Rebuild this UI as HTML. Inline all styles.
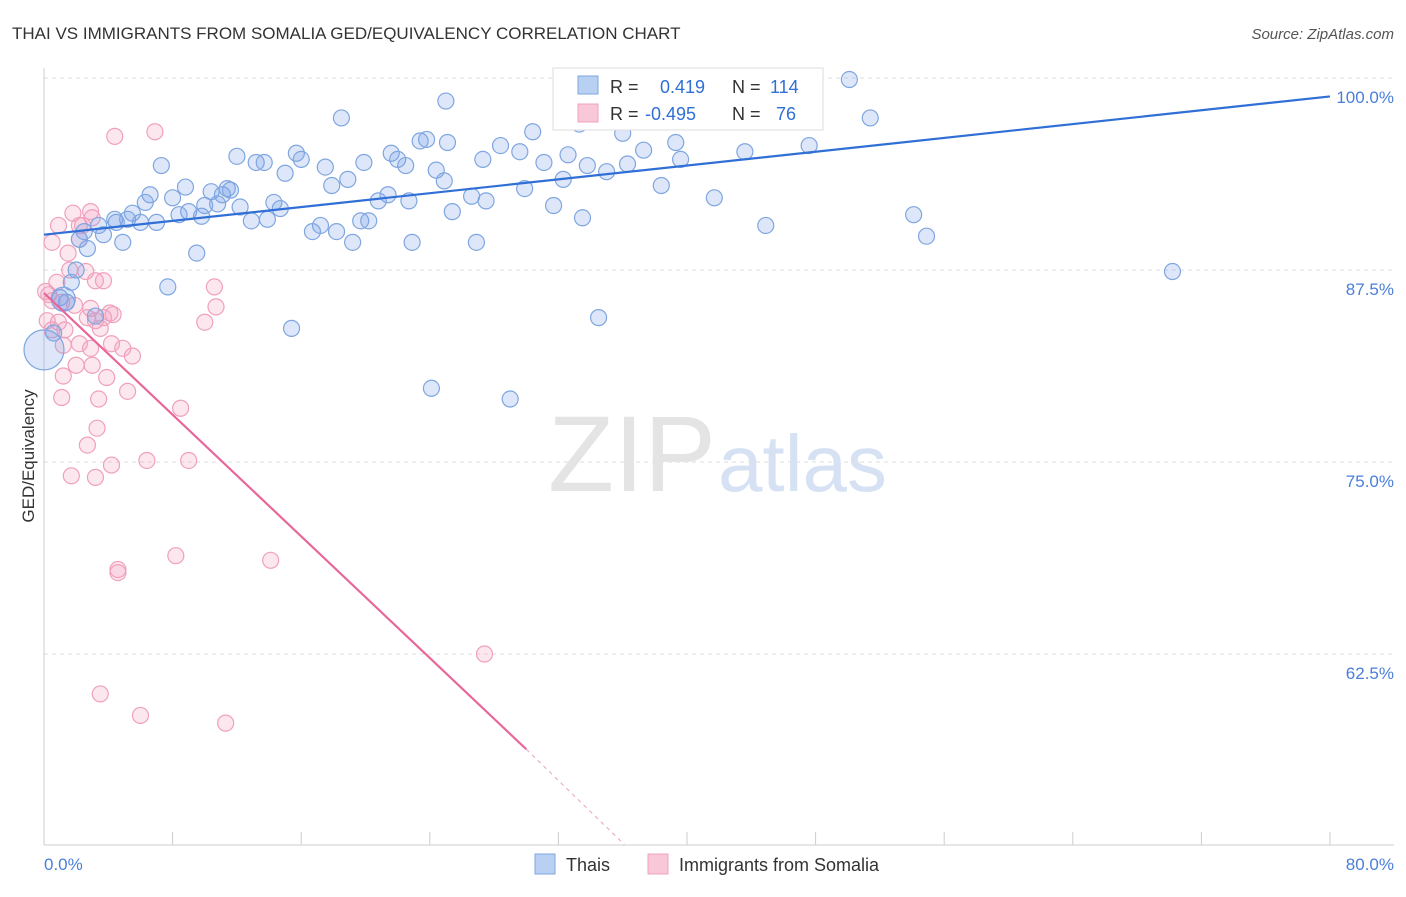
<!DOCTYPE html>
<html><head><meta charset="utf-8"><style>
body{margin:0;background:#fff;font-family:"Liberation Sans",sans-serif}
svg text{font-family:"Liberation Sans",sans-serif}
</style></head><body>
<svg id="chart" width="1406" height="892" viewBox="0 0 1406 892" xmlns="http://www.w3.org/2000/svg">
<text x="12" y="39" font-size="17" fill="#333">THAI VS IMMIGRANTS FROM SOMALIA GED/EQUIVALENCY CORRELATION CHART</text>
<text x="1394" y="39" font-size="15" fill="#555" text-anchor="end" font-style="italic">Source: ZipAtlas.com</text>
<g id="grid"></g>
<text x="716" y="491" font-size="108" fill="#e4e4e4" text-anchor="end" font-family="Liberation Serif">ZIP</text>
<text x="718" y="491" font-size="80" fill="#d6e2f4">atlas</text>
<g id="marks"></g>
<text x="34" y="456" font-size="17" fill="#333" text-anchor="middle" transform="rotate(-90 34 456)">GED/Equivalency</text>
<text x="44" y="870" font-size="17" fill="#4a7fd8">0.0%</text>
<text x="1394" y="870" font-size="17" fill="#4a7fd8" text-anchor="end">80.0%</text>
<g>
<rect x="553" y="68" width="270" height="62" fill="#fff" stroke="#ddd"/>
<rect x="578" y="76" width="20" height="18" fill="#b8d0f2" stroke="#7fa6e0"/>
<rect x="578" y="104" width="20" height="18" fill="#f8c8d8" stroke="#f0a0bc"/>
<text x="610" y="93" font-size="18" fill="#333">R = <tspan fill="#2f6fd6" x="660">0.419</tspan><tspan fill="#333" x="732">N = </tspan><tspan fill="#2f6fd6" x="770">114</tspan></text>
<text x="610" y="120" font-size="18" fill="#333">R = <tspan fill="#2f6fd6" x="645">-0.495</tspan><tspan fill="#333" x="732">N = </tspan><tspan fill="#2f6fd6" x="776">76</tspan></text>
</g>
<g>
<rect x="535" y="854" width="20" height="20" fill="#b8d0f2" stroke="#7fa6e0"/>
<text x="566" y="871" font-size="18" fill="#333">Thais</text>
<rect x="648" y="854" width="20" height="20" fill="#f8c8d8" stroke="#f0a0bc"/>
<text x="679" y="871" font-size="18" fill="#333">Immigrants from Somalia</text>
</g>
</svg>
<script>
const yTicks=[100,87.5,75,62.5];
const yTickLabels=["100.0%","87.5%","75.0%","62.5%"];
const xTicks=[0,8,16,24,32,40,48,56,64,72,80];
const thaiX=[50.1,25.0,18.5,51.4,30.4,36.6,39.1,33.3,36.0,23.4,23.8,25.1,28.4,29.6,39.3,37.3,47.6,43.6,12.0,15.7,7.3,13.2,13.7,16.0,17.5,19.9,21.6,22.0,22.5,27.3,31.1,32.6,33.8,35.0,36.3,39.6,15.0,18.9,17.9,24.4,24.9,32.3,38.4,29.9,41.7,8.8,6.6,6.3,8.0,10.4,11.1,11.4,11.6,10.8,10.0,12.2,14.3,14.7,21.4,20.8,22.7,26.6,27.5,31.7,9.0,8.4,9.8,5.5,4.4,4.5,5.2,6.0,7.0,12.9,13.9,17.2,16.7,18.2,19.7,20.2,25.4,33.5,54.1,44.9,3.4,2.5,3.7,2.2,2.7,4.9,9.5,19.2,22.9,26.9,54.9,70.2,2.0,1.7,7.7,1.0,1.4,3.2,15.4,34.5,0.6,24.1,29.0];
const thaiY=[99.9,98.5,97.4,97.4,96.5,98.4,98.8,97.0,96.4,95.9,96.0,95.8,95.6,95.2,95.8,95.3,95.6,95.2,94.9,95.1,94.3,94.5,94.5,94.7,94.2,94.5,95.1,94.7,94.3,94.7,94.5,95.0,94.3,93.9,94.4,94.7,93.8,93.4,93.0,94.0,93.3,93.4,93.0,92.8,92.2,92.9,92.4,91.9,92.2,92.6,92.4,92.8,92.7,91.8,91.7,91.6,91.9,91.5,92.4,92.0,92.0,92.3,92.0,91.7,91.3,91.1,91.0,91.2,90.8,90.6,90.8,90.6,90.6,90.7,90.8,90.4,90.0,90.0,90.7,90.7,91.3,90.9,91.1,90.4,90.4,90.0,89.8,89.5,88.9,89.3,88.6,89.3,89.3,89.3,89.7,87.4,87.5,86.7,86.4,85.7,85.4,84.5,83.7,84.4,83.4,79.8,79.1];
const thaiBigX=[0,1.2];
const thaiBigY=[82.3,85.6];
const somX=[4.4,6.9,0.5,0.9,1.8,2.2,2.9,3.0,2.4,1.5,2.2,1.6,0.8,3.2,3.7,2.6,0.3,0.5,1.1,1.9,2.9,0.2,0.9,1.3,2.7,3.7,4.1,4.3,3.2,3.5,2.2,2.9,1.2,4.2,4.9,5.5,2.0,3.0,3.9,1.2,5.2,1.1,3.4,8.5,10.6,10.7,10.0,3.3,2.7,1.7,3.2,4.2,6.4,9.0,8.2,4.6,4.6,14.1,27.4,3.5,6.0,11.3,0.1,0.5];
const somY=[96.2,96.5,89.3,90.4,91.2,90.4,91.3,90.9,90.4,88.6,89.5,87.5,86.7,86.8,86.8,87.4,85.9,85.5,85.4,85.2,85.0,84.2,84.1,83.6,84.4,84.4,84.7,84.6,84.2,83.7,82.7,82.4,82.6,82.7,82.4,81.9,81.3,81.3,80.5,80.6,79.6,79.2,79.1,78.5,86.4,85.1,84.1,77.2,76.1,74.1,74.0,74.8,75.1,75.1,68.9,68.0,67.8,68.6,62.5,59.9,58.5,58.0,86.1,83.6];
const thaiTrend=[[0,89.8],[80,98.8]];
const somTrend=[[0,86.0],[30.0,56.3]];
const somTrendDash=[[30.0,56.3],[36.1,50.1]];

const NS="http://www.w3.org/2000/svg";
const X=v=>44+v*16.075;
const Y=v=>78+(100-v)*15.36;
function mk(tag,attrs,parent){const e=document.createElementNS(NS,tag);for(const k in attrs)e.setAttribute(k,attrs[k]);parent.appendChild(e);return e;}
const grid=document.getElementById('grid');
const marks=document.getElementById('marks');
yTicks.forEach((t,i)=>{
  const l=mk('line',{x1:44,x2:1394,y1:Y(t),y2:Y(t),stroke:'#ddd','stroke-dasharray':'4,4'},grid);
  
  
  const tx=mk('text',{x:1394,y:Y(t)+25,'font-size':17,fill:'#4a7fd8','text-anchor':'end'},grid);
  tx.textContent=yTickLabels[i];
  
  
});
const ax=mk('line',{x1:44,x2:44,y1:68,y2:845,stroke:'#ccc'},grid);


const bx=mk('line',{x1:44,x2:1394,y1:845,y2:845,stroke:'#ccc'},grid);


xTicks.forEach(t=>{
  const l=mk('line',{x1:X(t),x2:X(t),y1:832,y2:845,stroke:'#ccc'},grid);
  
  
});
function pt(x,y,r,fill,stroke,name){
  const c=mk('circle',{cx:X(x),cy:Y(y),r:r,fill:fill,stroke:stroke,'stroke-width':1.2},marks);
  
  
}
somX.forEach((x,i)=>pt(x,somY[i],8,'rgba(244,160,190,0.25)','#f0a0bc','somalia-point'));
thaiX.forEach((x,i)=>pt(x,thaiY[i],8,'rgba(120,160,230,0.25)','#7fa6e0','thai-point'));
thaiBigX.forEach((x,i)=>pt(x,thaiBigY[i],i==0?20:12,'rgba(120,160,230,0.25)','#7fa6e0','thai-point-large'));
function ln(p,color,dash,name){
  const l=mk('line',{x1:X(p[0][0]),y1:Y(p[0][1]),x2:X(p[1][0]),y2:Y(p[1][1]),stroke:color,'stroke-width':dash?1:2.2},marks);
  if(dash)l.setAttribute('stroke-dasharray','4,4');
  
  
}
ln(thaiTrend,'#2f6fd6',false,'thai-trend-line');
ln(somTrend,'#e8679a',false,'somalia-trend-line');
ln(somTrendDash,'#e8a0bc',true,'somalia-trend-extension');
</script>
</body></html>
